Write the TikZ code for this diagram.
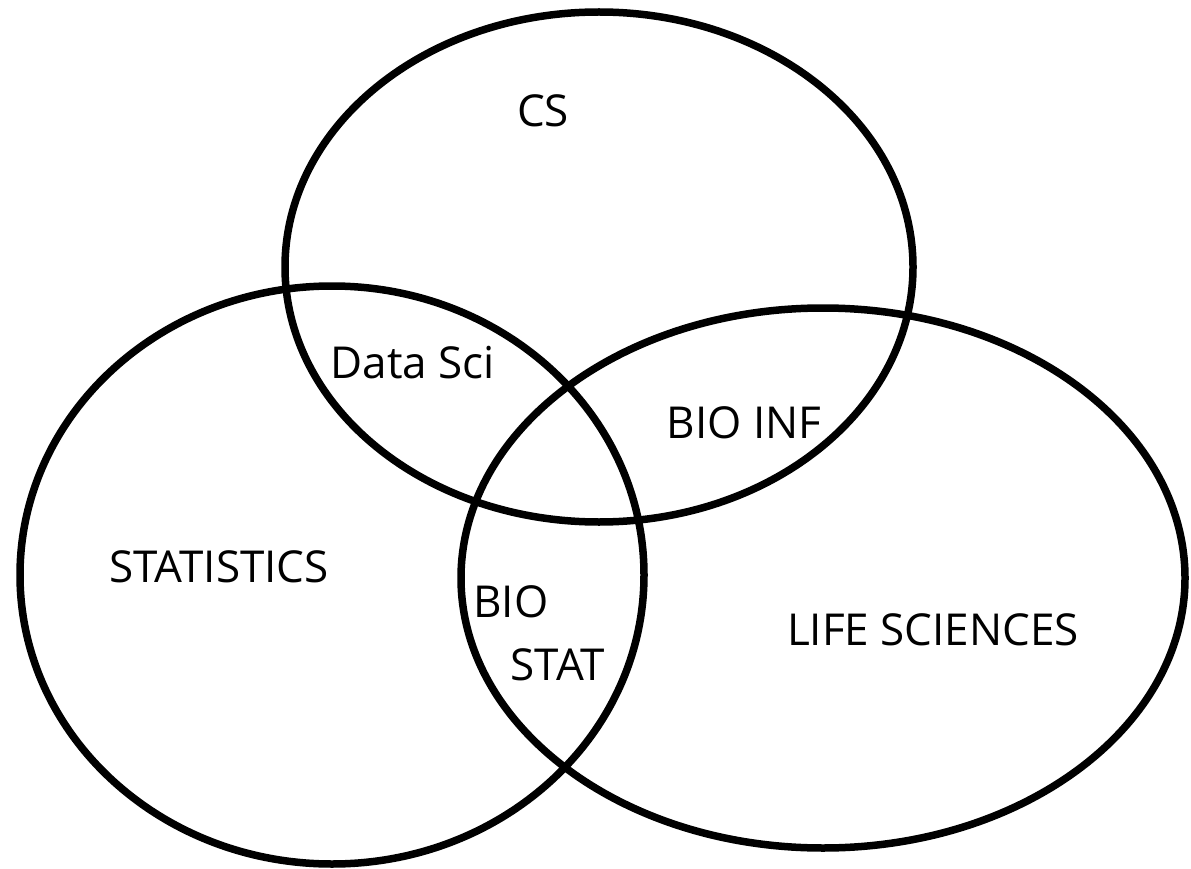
\documentclass[tikz,border=0pt]{standalone}
\usepackage{fontspec}
\setmainfont{Open Sans}
\usepackage{xcolor}

\begin{document}
\begin{tikzpicture}[x=1pt,y=-1pt,
        set/.style={draw=black,line width=7.5pt},
        lbl/.style={anchor=base,inner sep=0pt,font=\fontsize{44}{52}\selectfont}]
                \useasboundingbox (0, 0) rectangle (1191, 869);

                \draw[set] (599, 267) ellipse [x radius=314, y radius=255];
                \draw[set] (332, 575) ellipse [x radius=312, y radius=289];
                \draw[set] (823, 578) ellipse [x radius=362, y radius=270];

                \node[lbl] (cs) at (543, 127) {CS};
                \node[lbl] (stats) at (219, 582) {STATISTICS};
                \node[lbl] (life) at (933, 645) {LIFE SCIENCES};

                \node[lbl] (datasci) at (413, 378) {Data Sci};
                \node[lbl] (bioinf) at (744, 438) {BIO INF};
                \node[lbl] (bio) at (511, 617) {BIO};
                \node[lbl] (stat) at (558, 680) {STAT};

            \end{tikzpicture}
\end{document}
